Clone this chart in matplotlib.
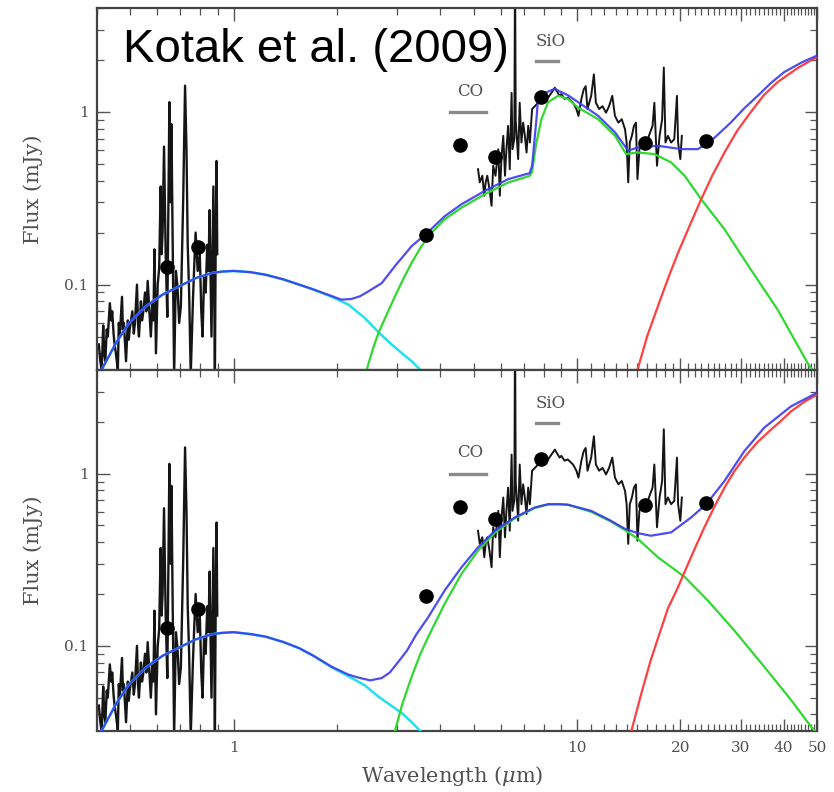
import matplotlib
matplotlib.use("Agg")
import matplotlib.pyplot as plt
from matplotlib.ticker import NullFormatter

# photometry (both panels)
phot_wave = [0.64, 0.79, 3.64, 4.57, 5.78, 7.86, 15.8, 23.7]
phot_flux = [0.127, 0.164, 0.195, 0.643, 0.547, 1.22, 0.66, 0.68]

# optical spectrum
opt_wave = [0.405, 0.409, 0.413, 0.417, 0.420, 0.423, 0.427, 0.430, 0.436, 0.440,
            0.443, 0.447, 0.450, 0.454, 0.460, 0.463, 0.466, 0.473, 0.476, 0.479,
            0.486, 0.492, 0.495, 0.498, 0.507, 0.512, 0.516, 0.523, 0.527, 0.530,
            0.537, 0.541, 0.545, 0.552, 0.557, 0.562, 0.568, 0.574, 0.580, 0.584,
            0.588, 0.594, 0.601, 0.607, 0.613, 0.617, 0.621, 0.627, 0.634, 0.641,
            0.650, 0.655, 0.659, 0.665, 0.671, 0.679, 0.686, 0.694, 0.702, 0.713,
            0.722, 0.729, 0.735, 0.742, 0.750, 0.761, 0.768, 0.775, 0.786, 0.797,
            0.805, 0.812, 0.820, 0.829, 0.838, 0.845, 0.851, 0.862, 0.873, 0.882,
            0.887, 0.892, 0.896]
opt_flux = [0.045, 0.036, 0.032, 0.058, 0.040, 0.036, 0.055, 0.050, 0.078, 0.062,
            0.070, 0.052, 0.045, 0.040, 0.032, 0.060, 0.050, 0.085, 0.055, 0.060,
            0.036, 0.062, 0.048, 0.055, 0.070, 0.052, 0.060, 0.100, 0.058, 0.050,
            0.080, 0.062, 0.068, 0.090, 0.070, 0.105, 0.072, 0.050, 0.080, 0.062,
            0.160, 0.040, 0.100, 0.125, 0.370, 0.150, 0.200, 0.630, 0.150, 0.065,
            1.140, 0.300, 0.850, 0.150, 0.030, 0.120, 0.098, 0.060, 0.075, 0.310,
            1.420, 0.600, 0.170, 0.090, 0.030, 0.080, 0.130, 0.200, 0.120, 0.150,
            0.070, 0.050, 0.110, 0.090, 0.170, 0.120, 0.270, 0.050, 0.370, 0.030,
            0.200, 0.520, 0.150]

# mid-IR spectrum
ir_wave = [5.15, 5.21, 5.30, 5.37, 5.42, 5.48, 5.56, 5.64, 5.70, 5.79,
           5.90, 5.96, 6.03, 6.10, 6.17, 6.23, 6.30, 6.37, 6.45, 6.49,
           6.57, 6.60, 6.63, 6.74, 6.81, 6.89, 6.97, 7.05, 7.13, 7.21,
           7.29, 7.40, 7.54, 7.70, 7.88, 8.06, 8.24, 8.62, 8.90, 9.00,
           9.20, 9.40, 9.74, 9.96, 10.1, 10.3, 10.46, 10.6, 10.73, 11.0,
           11.2, 11.35, 11.6, 11.87, 12.15, 12.4, 12.67, 12.9, 13.2, 13.5,
           13.8, 13.95, 14.1, 14.25, 14.45, 14.65, 14.85, 15.0, 15.2, 15.5,
           15.85, 16.2, 16.6, 16.8, 17.1, 17.4, 17.7, 17.9, 18.1, 18.4,
           18.8, 19.2, 19.55, 19.7, 20.0, 20.2]
ir_flux = [0.466, 0.391, 0.427, 0.327, 0.391, 0.427, 0.357, 0.286, 0.488, 0.427,
           0.608, 0.327, 0.557, 0.727, 0.427, 0.608, 0.830, 0.466, 1.29, 0.608,
           0.700, 8.0, 0.900, 0.533, 1.13, 0.665, 0.867, 0.727, 0.582, 0.830,
           0.665, 1.04, 1.08, 1.13, 1.21, 1.19, 1.21, 1.38, 1.24, 1.27,
           1.19, 1.21, 1.13, 1.04, 0.948, 1.19, 1.35, 1.41, 1.04, 1.24,
           1.65, 1.13, 1.04, 1.08, 0.99, 1.08, 1.24, 0.948, 0.867, 0.907,
           0.794, 0.665, 0.391, 0.665, 0.727, 0.830, 0.867, 0.408, 0.608, 0.695,
           0.636, 0.727, 0.830, 1.13, 0.488, 0.727, 0.907, 1.81, 0.665, 0.727,
           0.665, 0.695, 1.24, 0.665, 0.533, 0.727]

# model curves, top panel
hot_wave_top = [0.40, 0.415, 0.454, 0.496, 0.555, 0.621, 0.694, 0.776, 0.867, 0.93,
                1.0, 1.12, 1.24, 1.40, 1.55, 1.70, 1.93, 2.16, 2.41, 2.64,
                2.85, 3.09, 3.30, 3.50]
hot_flux_top = [0.030, 0.0328, 0.0458, 0.0599, 0.0748, 0.0875, 0.0977, 0.109, 0.117, 0.119,
                0.120, 0.118, 0.114, 0.107, 0.100, 0.094, 0.085, 0.0765, 0.064, 0.053,
                0.046, 0.040, 0.036, 0.032]
warm_wave_top = [2.44, 2.54, 2.64, 2.80, 2.95, 3.10, 3.30, 3.50, 3.69, 4.12,
                 4.61, 5.39, 6.30, 7.28, 7.40, 7.60, 7.88, 8.24, 8.81, 9.41,
                 10.07, 11.5, 12.9, 13.9, 15.0, 16.8, 18.8, 20.6, 23.0, 26.9,
                 32.1, 38.4, 47.0, 49.0]
warm_flux_top = [0.032, 0.042, 0.0524, 0.068, 0.0855, 0.105, 0.134, 0.163, 0.191, 0.239,
                 0.279, 0.334, 0.390, 0.426, 0.450, 0.650, 0.910, 1.14, 1.24, 1.19,
                 1.06, 0.910, 0.728, 0.570, 0.583, 0.570, 0.510, 0.426, 0.312, 0.209,
                 0.122, 0.0716, 0.035, 0.031]
cold_wave_top = [15.0, 16.0, 17.2, 18.4, 19.7, 21.3, 23.0, 24.8, 26.9, 29.3,
                 32.1, 35.0, 38.4, 44.0, 50.0]
cold_flux_top = [0.032, 0.050, 0.0748, 0.108, 0.153, 0.220, 0.312, 0.430, 0.583, 0.780,
                 1.00, 1.25, 1.49, 1.80, 2.08]
tot_wave_top = [0.40, 0.415, 0.454, 0.496, 0.555, 0.621, 0.694, 0.776, 0.867, 0.93,
                1.0, 1.12, 1.24, 1.40, 1.55, 1.70, 1.93, 2.06, 2.20, 2.33,
                2.47, 2.70, 2.95, 3.30, 3.65, 4.12, 4.61, 5.39, 6.30, 7.28,
                7.40, 7.62, 7.70, 8.00, 8.61, 8.81, 9.41, 10.07, 11.5, 12.9,
                14.1, 15.0, 17.2, 20.1, 22.5, 24.6, 26.3, 28.1, 30.7, 33.6,
                36.7, 40.1, 45.0, 50.0]
tot_flux_top = [0.030, 0.0328, 0.0458, 0.0599, 0.0748, 0.0875, 0.0977, 0.109, 0.117, 0.119,
                0.120, 0.118, 0.114, 0.107, 0.100, 0.094, 0.0858, 0.0818, 0.0825, 0.0855,
                0.0914, 0.102, 0.128, 0.167, 0.198, 0.249, 0.292, 0.349, 0.408, 0.442,
                0.487, 0.910, 1.19, 1.28, 1.36, 1.33, 1.25, 1.14, 0.953, 0.762,
                0.596, 0.623, 0.637, 0.609, 0.609, 0.681, 0.770, 0.871, 1.05, 1.24,
                1.47, 1.70, 1.93, 2.12]

# model curves, bottom panel
hot_wave_bot = [0.40, 0.415, 0.454, 0.496, 0.555, 0.621, 0.694, 0.776, 0.867, 0.93,
                1.0, 1.12, 1.24, 1.40, 1.55, 1.70, 1.93, 2.16, 2.41, 2.64,
                2.85, 3.09, 3.30, 3.50]
hot_flux_bot = [0.030, 0.0328, 0.0458, 0.0599, 0.0748, 0.0875, 0.0977, 0.109, 0.117, 0.119,
                0.120, 0.117, 0.113, 0.105, 0.097, 0.088, 0.075, 0.0665, 0.059, 0.0507,
                0.0455, 0.0407, 0.036, 0.032]
warm_wave_bot = [2.95, 3.10, 3.30, 3.50, 3.69, 4.12, 4.61, 5.15, 5.77, 6.59,
                 7.53, 8.24, 8.81, 9.41, 11.0, 12.5, 13.8, 15.0, 17.2, 20.6,
                 24.0, 28.7, 35.1, 42.0, 48.0, 50.0]
warm_flux_bot = [0.032, 0.046, 0.0662, 0.090, 0.113, 0.176, 0.262, 0.357, 0.455, 0.550,
                 0.632, 0.662, 0.665, 0.660, 0.600, 0.530, 0.470, 0.420, 0.327, 0.251,
                 0.184, 0.123, 0.0756, 0.0485, 0.034, 0.031]
cold_wave_bot = [14.4, 15.4, 16.4, 17.4, 18.4, 19.5, 20.6, 22.0, 23.5, 25.2,
                 26.9, 28.7, 30.7, 33.5, 36.7, 39.0, 42.0, 46.0, 50.0]
cold_flux_bot = [0.032, 0.053, 0.0826, 0.118, 0.165, 0.210, 0.270, 0.365, 0.488, 0.650,
                 0.830, 1.03, 1.24, 1.52, 1.80, 2.00, 2.30, 2.62, 2.88]
tot_wave_bot = [0.40, 0.415, 0.454, 0.496, 0.555, 0.621, 0.694, 0.776, 0.867, 0.93,
                1.0, 1.12, 1.24, 1.40, 1.55, 1.70, 1.93, 2.16, 2.30, 2.50,
                2.70, 2.85, 3.05, 3.20, 3.40, 3.69, 4.12, 4.61, 5.15, 5.77,
                6.59, 7.53, 8.24, 8.81, 9.41, 11.0, 12.5, 13.8, 15.0, 16.4,
                18.8, 20.0, 21.5, 23.8, 26.9, 30.7, 35.1, 42.0, 50.0]
tot_flux_bot = [0.030, 0.0328, 0.0458, 0.0599, 0.0748, 0.0875, 0.0977, 0.109, 0.117, 0.119,
                0.120, 0.117, 0.113, 0.105, 0.097, 0.088, 0.0756, 0.068, 0.0655, 0.063,
                0.065, 0.070, 0.083, 0.094, 0.116, 0.147, 0.210, 0.286, 0.373, 0.467,
                0.557, 0.636, 0.665, 0.665, 0.660, 0.608, 0.535, 0.478, 0.452, 0.436,
                0.456, 0.500, 0.557, 0.665, 0.908, 1.35, 1.85, 2.46, 2.95]

# molecular band markers: (label, x0, x1, bar level, label x, label y)
bands = [("CO", 4.27, 5.44, 1.0, 4.89, 1.32),
         ("SiO", 7.6, 8.8, 1.98, 8.40, 2.55)]

x_major = [1, 10, 20, 30, 40, 50]
x_minor = [0.4, 0.5, 0.6, 0.7, 0.8, 0.9] + list(range(2, 10)) + \
          [v for v in range(11, 50) if v % 10 != 0]
y_minor = [0.04, 0.05, 0.06, 0.07, 0.08, 0.09, 0.2, 0.3, 0.4, 0.5, 0.6, 0.7, 0.8, 0.9, 2, 3, 4]

plt.rcParams['font.family'] = ['DejaVu Serif']
plt.rcParams['mathtext.fontset'] = 'dejavuserif'
txt_col = '#505050'

fig = plt.figure(figsize=(8.34, 7.92), dpi=100)
ax_top = fig.add_axes([0.1163, 0.5328, 0.8633, 0.4571])
ax_bot = fig.add_axes([0.1163, 0.0770, 0.8633, 0.4558])

panels = [
    (ax_top, hot_wave_top, hot_flux_top, warm_wave_top, warm_flux_top,
     cold_wave_top, cold_flux_top, tot_wave_top, tot_flux_top),
    (ax_bot, hot_wave_bot, hot_flux_bot, warm_wave_bot, warm_flux_bot,
     cold_wave_bot, cold_flux_bot, tot_wave_bot, tot_flux_bot),
]

for ax, hw, hf, ww, wf, cw, cf, tw, tf in panels:
    ax.set_xscale('log')
    ax.set_yscale('log')
    ax.plot(opt_wave, opt_flux, color='#151515', lw=1.7, zorder=2)
    ax.plot(ir_wave, ir_flux, color='#151515', lw=1.4, zorder=2)
    ax.plot(hw, hf, color='#22e0f0', lw=1.8, zorder=3)
    ax.plot(ww, wf, color='#30d830', lw=1.6, zorder=3)
    ax.plot(cw, cf, color='#ff4040', lw=1.6, zorder=3)
    ax.plot(tw, tf, color='#3a3af0', lw=1.6, alpha=0.9, zorder=4)
    ax.plot(phot_wave, phot_flux, 'o', color='black', ms=9.5, zorder=5)

    for name, x0, x1, yb, xt, yt in bands:
        ax.plot([x0, x1], [yb, yb], color='#8a8a8a', lw=2.4)
        ax.text(xt, yt, name, ha='center', va='center', fontsize=12, color=txt_col)

    ax.set_xlim(0.4, 50)
    ax.set_ylim(0.032, 4.0)
    ax.set_yticks([0.1, 1])
    ax.set_yticklabels(['0.1', '1'])
    ax.set_yticks(y_minor, minor=True)
    ax.set_xticks(x_major)
    ax.set_xticks(x_minor, minor=True)
    ax.set_xticklabels([str(v) for v in x_major])
    ax.xaxis.set_minor_formatter(NullFormatter())
    ax.yaxis.set_minor_formatter(NullFormatter())
    ax.tick_params(axis='both', which='both', direction='in', top=True, right=True,
                   colors='#555555', labelcolor=txt_col, labelsize=11)
    ax.tick_params(which='major', length=9, width=1.0)
    ax.tick_params(which='minor', length=5, width=0.9)
    ax.tick_params(axis='y', pad=6)
    ax.tick_params(axis='x', pad=7)
    for sp in ax.spines.values():
        sp.set_color('#444444')
        sp.set_linewidth(1.6)
    ax.set_ylabel('Flux (mJy)', fontsize=15, color=txt_col)
    ax.yaxis.set_label_coords(-0.075, 0.5)

ax_top.tick_params(axis='x', which='both', labelbottom=False)
ax_bot.set_xlabel(r'Wavelength ($\mu$m)', fontsize=15, color=txt_col)
ax_bot.xaxis.set_label_coords(0.493, -0.09)

fig.text(123 / 834, 1 - 62 / 792, 'Kotak et al. (2009)', fontsize=34,
         family='Liberation Sans', color='black', va='baseline', ha='left')

fig.savefig('out.png', dpi=100)
